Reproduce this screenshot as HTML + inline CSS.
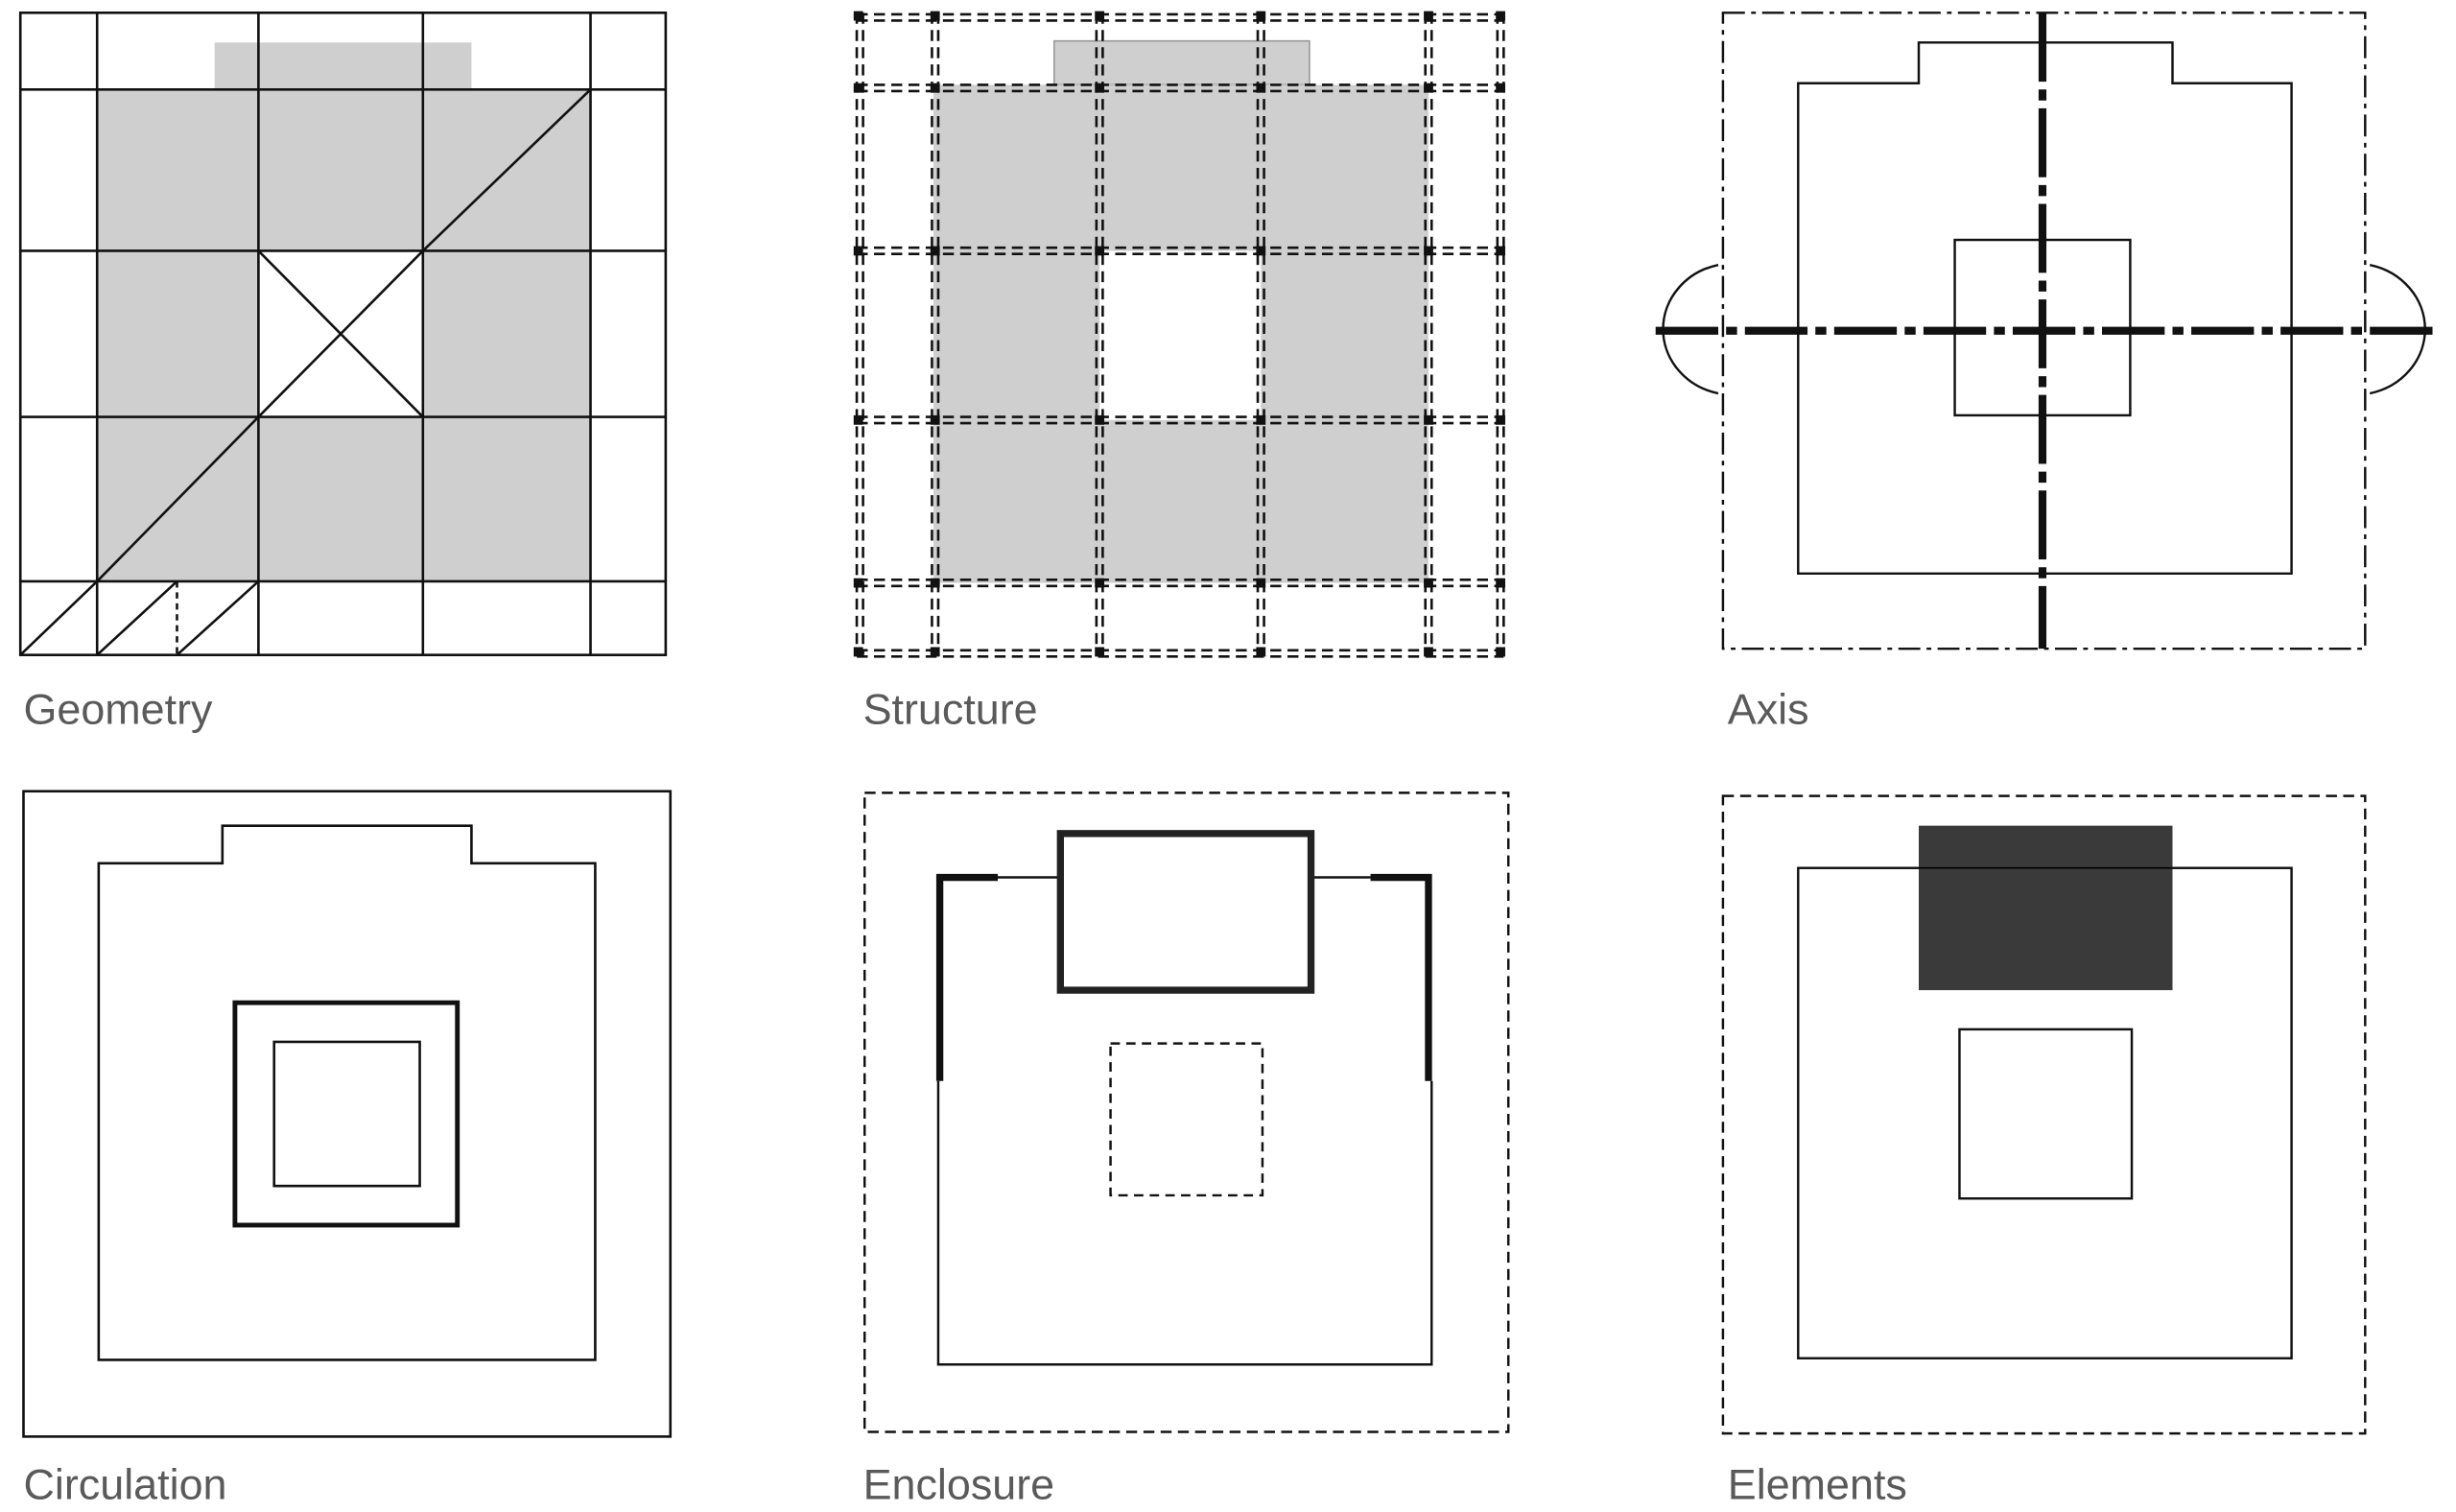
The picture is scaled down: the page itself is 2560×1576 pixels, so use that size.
<!DOCTYPE html>
<html><head><meta charset="utf-8"><style>
html,body{margin:0;padding:0;background:#fff;}
svg{display:block;}
text{font-family:"Liberation Sans",sans-serif;font-size:27.5px;fill:#5a5a5a;}
</style></head><body>
<svg width="2560" height="1576" viewBox="0 0 1568 965" xmlns="http://www.w3.org/2000/svg">
<rect width="1568" height="965" fill="#fff"/>
<!-- Geometry -->
<g stroke="#111" stroke-width="1.6" fill="none">
<rect x="137" y="27" width="164" height="30" fill="#cfcfcf" stroke="none"/>
<path d="M62 57H377V371H62Z M165 160V266H270V160Z" fill="#cfcfcf" fill-rule="evenodd" stroke="none"/>
<rect x="13" y="8" width="412" height="410"/>
<path d="M62 8V418M165 8V418M270 8V418M377 8V418M13 57H425M13 160H425M13 266H425M13 371H425"/>
<path d="M62 371L165 266L270 160L377 57"/>
<path d="M165 160L270 266"/>
<path d="M13 418L62 371M62 418L113 371M113 418L165 371"/>
<path d="M113 371V418" stroke-dasharray="4 3"/>
</g>
<text x="15" y="462">Geometry</text>
<!-- Structure -->
<rect x="673" y="26" width="163" height="28" fill="#cfcfcf" stroke="#999" stroke-width="1"/>
<path d="M596 54H912V372H596Z M702 160V268H805V160Z" fill="#cfcfcf" fill-rule="evenodd"/>
<g stroke="#111" stroke-width="1.6" stroke-dasharray="7 4" fill="none">
<path d="M547 8V418M551 8V418M595 8V418M599 8V418M700 8V418M704 8V418M803 8V418M807 8V418M910 8V418M914 8V418M956 8V418M960 8V418"/>
<path d="M547 9H960M547 13H960M547 54H960M547 58H960M547 158H960M547 162H960M547 266H960M547 270H960M547 370H960M547 374H960M547 415H960M547 419H960"/>
</g>
<g fill="#111">
<path d="M545 7h6v6h-6zM594 7h6v6h-6zM699 7h6v6h-6zM802 7h6v6h-6zM909 7h6v6h-6zM955 7h6v6h-6z"/>
<path d="M545 53h6v6h-6zM594 53h6v6h-6zM699 53h6v6h-6zM802 53h6v6h-6zM909 53h6v6h-6zM955 53h6v6h-6z"/>
<path d="M545 157h6v6h-6zM594 157h6v6h-6zM699 157h6v6h-6zM802 157h6v6h-6zM909 157h6v6h-6zM955 157h6v6h-6z"/>
<path d="M545 265h6v6h-6zM594 265h6v6h-6zM699 265h6v6h-6zM802 265h6v6h-6zM909 265h6v6h-6zM955 265h6v6h-6z"/>
<path d="M545 369h6v6h-6zM594 369h6v6h-6zM699 369h6v6h-6zM802 369h6v6h-6zM909 369h6v6h-6zM955 369h6v6h-6z"/>
<path d="M545 413h6v6h-6zM594 413h6v6h-6zM699 413h6v6h-6zM802 413h6v6h-6zM909 413h6v6h-6zM955 413h6v6h-6z"/>
</g>
<text x="551" y="462">Structure</text>
<!-- Axis -->
<g stroke="#111" fill="none" stroke-width="1.5">
<rect x="1100" y="8" width="410" height="406" stroke-dasharray="14 4 3 4"/>
<path d="M1148 53H1225V27H1387V53H1463V366H1148Z"/>
<rect x="1248" y="153" width="112" height="112"/>
<path d="M1097 169A45 42 0 0 0 1097 251"/>
<path d="M1513 169A45 42 0 0 1 1513 251"/>
<path d="M1304 8V414" stroke-width="5" stroke-dasharray="44 5 7 5"/>
<path d="M1057 211H1555" stroke-width="5" stroke-dasharray="40 5 7 5"/>
</g>
<text x="1103" y="462">Axis</text>
<!-- Circulation -->
<g stroke="#111" fill="none" stroke-width="1.6">
<rect x="15" y="505" width="413" height="412"/>
<path d="M63 551H142V527H301V551H380V868H63Z"/>
<rect x="150" y="640" width="142" height="142" stroke-width="3"/>
<rect x="175" y="665" width="93" height="92"/>
</g>
<text x="15" y="957">Circulation</text>
<!-- Enclosure -->
<g stroke="#111" fill="none" stroke-width="1.5">
<rect x="552" y="506" width="411" height="408" stroke-dasharray="7 4"/>
<path d="M599 690V871H914V690"/>
<path d="M637 560H677M837 560H875"/>
<path d="M600 690V560H637M875 560H912V690" stroke-width="4.5"/>
<rect x="677" y="532" width="160" height="100" stroke="#222" stroke-width="4.5"/>
<rect x="709" y="666" width="97" height="97" stroke-dasharray="6 4"/>
</g>
<text x="551" y="957">Enclosure</text>
<!-- Elements -->
<g stroke="#111" fill="none" stroke-width="1.5">
<rect x="1100" y="508" width="410" height="407" stroke-dasharray="7 4"/>
<rect x="1148" y="554" width="315" height="313"/>
<rect x="1225" y="527" width="162" height="105" fill="#3a3a3a" stroke="none"/>
<path d="M1225 554H1387" stroke="#000" stroke-width="1"/>
<rect x="1251" y="657" width="110" height="108"/>
</g>
<text x="1103" y="957">Elements</text>
</svg>
</body></html>
